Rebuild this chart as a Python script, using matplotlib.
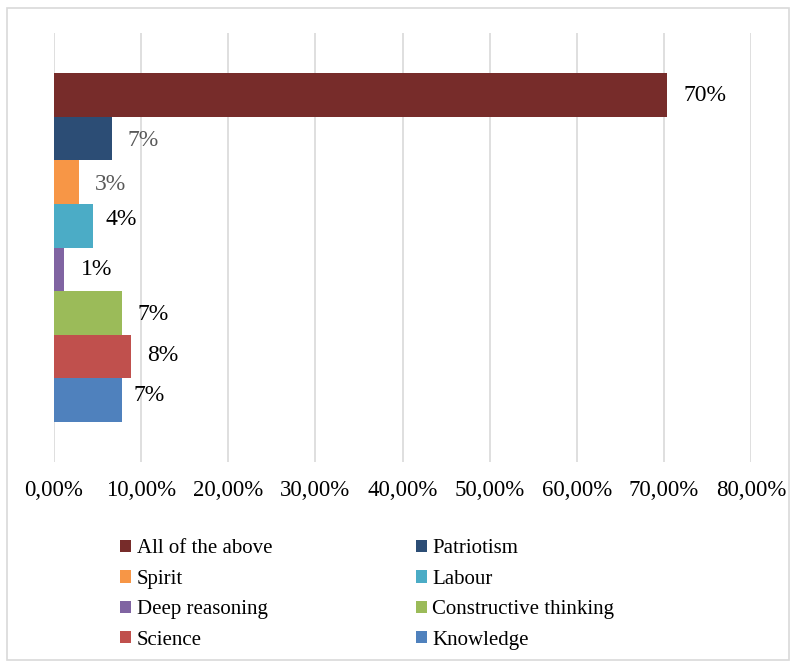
import matplotlib.pyplot as plt
from matplotlib.patches import Rectangle, Patch

plt.rcParams['font.family'] = ['Liberation Serif', 'DejaVu Serif']

# bottom to top order
categories = ['Knowledge', 'Science', 'Constructive thinking', 'Deep reasoning',
              'Labour', 'Spirit', 'Patriotism', 'All of the above']
values = [7.8, 8.85, 7.8, 1.15, 4.5, 2.9, 6.65, 70.4]
labels = ['7%', '8%', '7%', '1%', '4%', '3%', '7%', '70%']
colors = ['#4F81BD', '#C0504D', '#9BBB59', '#8064A2',
          '#4BACC6', '#F79646', '#2C4D75', '#772C2A']
label_colors = ['black', 'black', 'black', 'black', 'black', '#595959', '#595959', 'black']
label_dx = [12, 16, 16, 17, 12, 16, 16, 16]
label_dy = [5, 1, -2, 0, 6, -2, -2, -1]
xticks = [0, 10, 20, 30, 40, 50, 60, 70, 80]

fig = plt.figure(figsize=(7.96, 6.69), dpi=100)
W, H = 796, 669
ax = fig.add_axes([54 / W, 1 - 462 / H, (751 - 54) / W, (462 - 33) / H])

for i in range(len(categories)):
    ax.barh(i, values[i], height=1.0, color=colors[i], zorder=3)
    ax.annotate(labels[i], (values[i], i), xytext=(label_dx[i], label_dy[i]),
                textcoords='offset pixels', va='center', ha='left',
                fontsize=17, color=label_colors[i])

ax.set_xlim(0, 80)
ax.set_ylim(-1.42, 8.42)
ax.set_xticks(xticks)
ax.set_xticklabels(['%d,00%%' % t for t in xticks], fontsize=16.5)
ax.set_yticks([])
ax.tick_params(axis='x', length=0, pad=13)
ax.grid(axis='x', color='#D9D9D9', linewidth=1.2, zorder=0)
for s in ax.spines.values():
    s.set_visible(False)

# legend, row-major like the original
order = [7, 5, 3, 1, 6, 4, 2, 0]
handles = [Patch(facecolor=colors[k], label=categories[k]) for k in order]
fig.legend(handles=handles, loc='upper left', bbox_to_anchor=(112 / W, 1 - 531 / H),
           ncol=2, frameon=False, fontsize=15, handlelength=0.53, handleheight=0.53,
           handletextpad=0.25, columnspacing=6.9, labelspacing=0.55, borderaxespad=0)

fig.patches.append(Rectangle((7 / W, 1 - 660 / H), (789 - 7) / W, (660 - 8) / H,
                             transform=fig.transFigure, fill=False,
                             edgecolor='#D9D9D9', linewidth=1.2))

fig.savefig('out.png', dpi=100)
